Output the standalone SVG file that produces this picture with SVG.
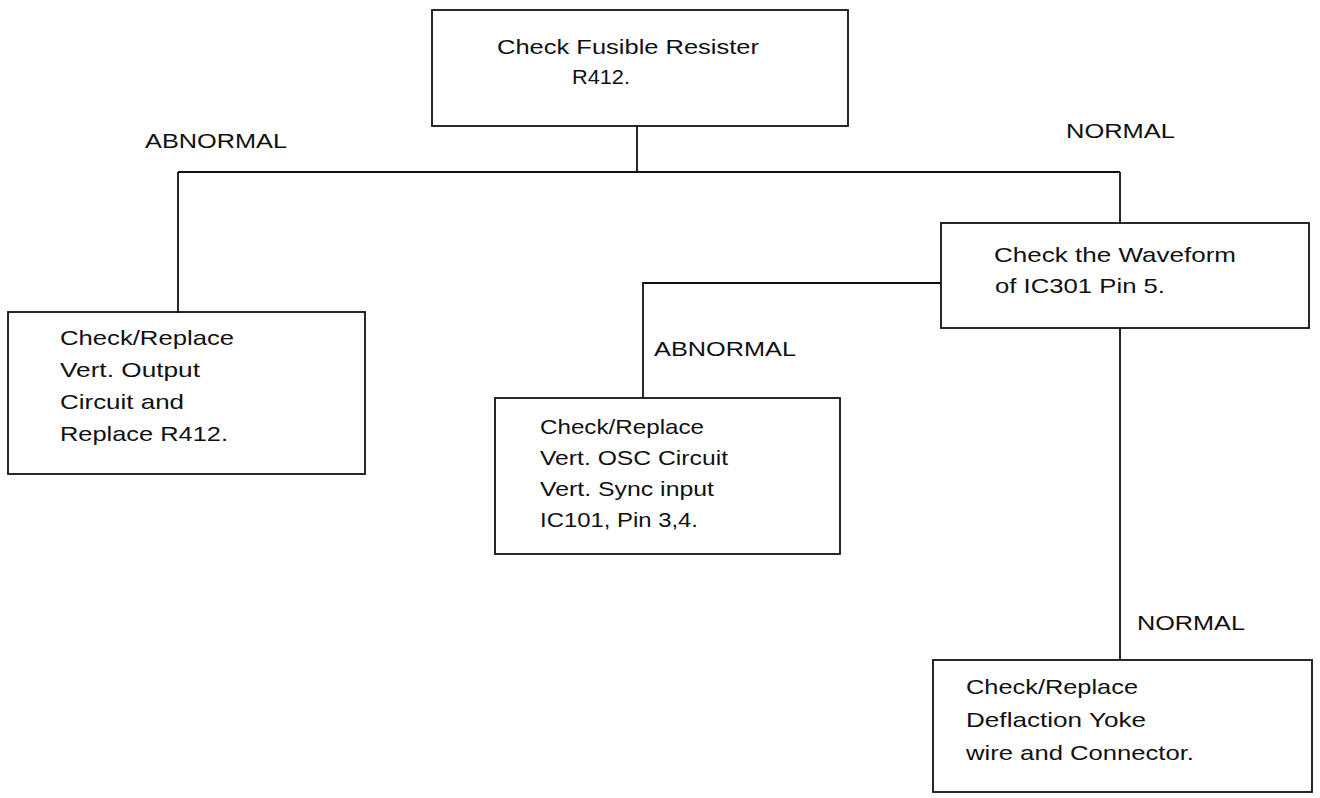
<svg xmlns="http://www.w3.org/2000/svg" width="1320" height="798" viewBox="0 0 1320 798">
<style>
.box{fill:none;stroke:#111;stroke-width:1.8}
.ln{fill:none;stroke:#111;stroke-width:1.8}
text{font-family:"Liberation Sans",Arial,sans-serif;font-size:21px;fill:#111}
</style>
<rect width="1320" height="798" fill="#fff"/>
<g id="connectors">
<path class="ln" d="M637 126 V172 M178 172 H1120 M178 172 V313 M1120 172 V223 M941 283 H643 V398 M1120 328 V660"/>
</g>
<g id="labels">
<text x="145" y="148" textLength="142" lengthAdjust="spacingAndGlyphs">ABNORMAL</text>
<text x="1066" y="138" textLength="109" lengthAdjust="spacingAndGlyphs">NORMAL</text>
<text x="654" y="356" textLength="142" lengthAdjust="spacingAndGlyphs">ABNORMAL</text>
<text x="1137" y="630" textLength="108" lengthAdjust="spacingAndGlyphs">NORMAL</text>
</g>
<g id="n_top">
<rect class="box" x="432" y="10" width="416" height="116"/>
<text x="497" y="54" textLength="262" lengthAdjust="spacingAndGlyphs">Check Fusible Resister</text>
<text x="572" y="84" textLength="58" lengthAdjust="spacingAndGlyphs">R412.</text>
</g>
<g id="n_left">
<rect class="box" x="8" y="312" width="357" height="162"/>
<text x="60" y="345" textLength="174" lengthAdjust="spacingAndGlyphs">Check/Replace</text>
<text x="60" y="377" textLength="140" lengthAdjust="spacingAndGlyphs">Vert. Output</text>
<text x="60" y="409" textLength="124" lengthAdjust="spacingAndGlyphs">Circuit and</text>
<text x="60" y="441" textLength="168" lengthAdjust="spacingAndGlyphs">Replace R412.</text>
</g>
<g id="n_wave">
<rect class="box" x="941" y="223" width="368" height="105"/>
<text x="994" y="262" textLength="242" lengthAdjust="spacingAndGlyphs">Check the Waveform</text>
<text x="995" y="293" textLength="170" lengthAdjust="spacingAndGlyphs">of IC301 Pin 5.</text>
</g>
<g id="n_mid">
<rect class="box" x="495" y="398" width="345" height="156"/>
<text x="540" y="434" textLength="164" lengthAdjust="spacingAndGlyphs">Check/Replace</text>
<text x="540" y="465" textLength="188" lengthAdjust="spacingAndGlyphs">Vert. OSC Circuit</text>
<text x="540" y="496" textLength="174" lengthAdjust="spacingAndGlyphs">Vert. Sync input</text>
<text x="540" y="527" textLength="158" lengthAdjust="spacingAndGlyphs">IC101, Pin 3,4.</text>
</g>
<g id="n_bottom">
<rect class="box" x="933" y="660" width="379" height="132"/>
<text x="966" y="694" textLength="172" lengthAdjust="spacingAndGlyphs">Check/Replace</text>
<text x="966" y="727" textLength="180" lengthAdjust="spacingAndGlyphs">Deflaction Yoke</text>
<text x="966" y="760" textLength="228" lengthAdjust="spacingAndGlyphs">wire and Connector.</text>
</g>
</svg>
